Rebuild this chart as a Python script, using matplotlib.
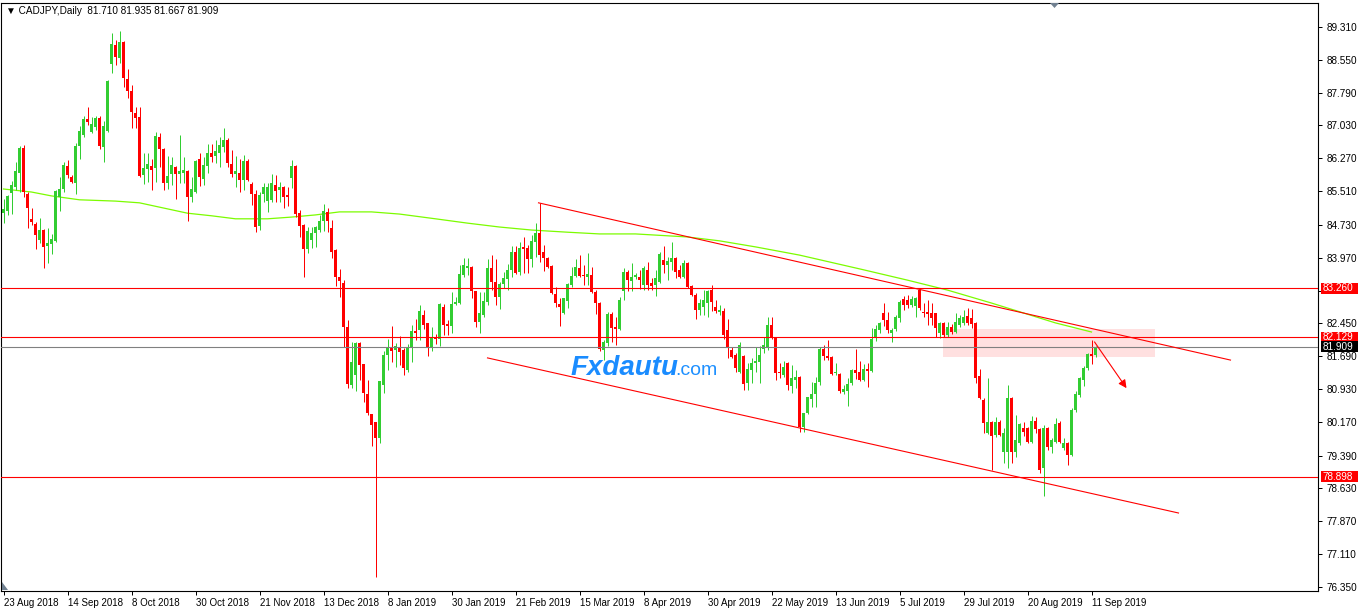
import matplotlib
matplotlib.use("Agg")
import matplotlib.pyplot as plt
import matplotlib.transforms as mtransforms
from matplotlib.patches import Rectangle, Polygon
import numpy as np

# daily OHLC, bar 0 = 23 Aug 2018
opens = [
    85.00, 85.05, 85.47, 85.61, 85.93, 86.51, 85.44, 84.87, 84.75, 84.38,
    84.61, 84.24, 84.29, 84.36, 85.37, 85.56, 86.09, 85.84, 85.70, 86.56,
    86.81, 87.18, 86.88, 87.00, 87.20, 86.53, 86.90, 88.45, 88.89, 88.59,
    88.96, 88.11, 87.83, 87.32, 87.23, 85.88, 86.02, 86.09, 86.05, 86.76,
    86.49, 85.70, 85.91, 86.07, 85.91, 85.93, 85.98, 85.37, 85.49, 86.25,
    85.79, 86.09, 86.39, 86.32, 86.39, 86.53, 86.69, 86.14, 85.91, 85.93,
    85.77, 86.21, 85.68, 85.44, 84.70, 85.44, 85.28, 85.31, 85.65, 85.54,
    85.61, 85.42, 85.81, 86.09, 85.00, 84.73, 84.17, 84.38, 84.54, 84.61,
    84.82, 85.03, 84.66, 84.15, 83.52, 83.38, 82.37, 81.02, 81.25, 82.00,
    81.51, 80.81, 80.35, 80.17, 79.80, 81.02, 81.72, 81.88, 81.83, 81.90,
    81.83, 81.37, 81.90, 82.27, 82.30, 82.64, 82.46, 81.90, 82.11, 82.09,
    82.83, 82.44, 82.39, 82.90, 82.92, 83.57, 83.73, 83.75, 83.20, 82.48,
    82.64, 82.94, 83.73, 83.41, 83.06, 83.36, 83.48, 83.69, 84.10, 83.64,
    84.22, 84.19, 83.94, 84.33, 84.54, 84.10, 83.96, 83.78, 83.13, 82.90,
    82.69, 82.97, 83.34, 83.55, 83.73, 83.57, 83.52, 83.57, 83.18, 82.92,
    81.83, 82.00, 82.67, 82.37, 82.32, 83.20, 83.64, 83.43, 83.52, 83.52,
    83.34, 83.69, 83.38, 83.34, 83.41, 83.92, 83.80, 83.87, 83.96, 83.69,
    83.52, 83.85, 83.31, 83.11, 82.76, 82.83, 82.92, 83.22, 82.83, 82.71,
    82.74, 82.30, 81.83, 81.72, 81.32, 81.69, 81.07, 81.37, 81.53, 81.56,
    81.86, 81.88, 82.41, 82.11, 81.32, 81.25, 81.53, 81.00, 81.14, 81.21,
    80.05, 80.37, 80.70, 80.81, 81.09, 81.86, 81.69, 81.67, 81.30, 81.28,
    80.86, 80.88, 81.07, 81.37, 81.32, 81.14, 81.39, 81.35, 82.11, 82.30,
    82.69, 82.53, 82.23, 82.32, 82.57, 83.01, 82.99, 82.88, 82.85, 83.22,
    82.71, 82.71, 82.69, 82.69, 82.23, 82.46, 82.18, 82.37, 82.25, 82.41,
    82.46, 82.62, 82.57, 82.46, 81.23, 80.68, 79.91, 80.17, 79.87, 80.17,
    79.47, 79.47, 80.72, 79.47, 79.68, 80.03, 80.03, 79.70, 80.19, 80.00,
    79.10, 80.03, 79.59, 79.70, 80.14, 79.56, 79.68, 79.40, 80.44, 80.79,
    81.14, 81.42, 81.74, 81.710,
]
highs = [
    85.33, 85.42, 85.75, 86.19, 86.56, 86.58, 85.49, 85.12, 84.80, 84.89,
    84.63, 84.66, 84.52, 85.54, 85.84, 86.19, 86.23, 85.88, 86.62, 87.02,
    87.25, 87.46, 87.23, 87.25, 87.25, 87.13, 88.08, 89.17, 89.01, 89.22,
    88.99, 88.34, 87.97, 87.46, 87.46, 86.39, 86.39, 86.25, 86.88, 86.86,
    86.51, 86.32, 86.30, 86.09, 86.81, 86.30, 86.00, 85.84, 86.23, 86.39,
    86.30, 86.60, 86.60, 86.69, 86.76, 86.97, 86.74, 86.46, 86.32, 86.25,
    86.35, 86.25, 85.72, 85.54, 85.49, 85.70, 85.70, 85.91, 85.88, 85.72,
    85.62, 85.61, 86.23, 86.12, 85.07, 84.75, 84.68, 84.68, 84.70, 84.96,
    85.21, 85.12, 84.84, 84.17, 83.71, 83.45, 82.53, 82.02, 82.02, 82.02,
    81.51, 81.14, 80.35, 80.17, 81.12, 81.81, 82.09, 82.39, 82.00, 82.16,
    81.88, 81.97, 82.41, 82.55, 82.88, 82.76, 82.46, 82.37, 82.20, 82.92,
    82.90, 82.53, 83.18, 83.06, 83.80, 83.96, 83.96, 83.78, 83.21, 83.18,
    83.18, 83.94, 84.03, 83.94, 83.40, 83.64, 83.82, 84.24, 84.24, 84.33,
    84.45, 84.26, 84.50, 84.77, 85.24, 84.26, 83.98, 83.79, 83.29, 83.04,
    83.04, 83.38, 83.76, 83.94, 84.03, 83.80, 84.08, 83.76, 83.22, 82.94,
    82.07, 82.71, 82.71, 82.60, 83.06, 83.73, 83.69, 83.85, 83.62, 83.69,
    83.78, 83.87, 83.50, 83.69, 84.10, 84.24, 83.99, 84.33, 83.98, 83.80,
    83.92, 83.87, 83.34, 83.15, 83.01, 83.22, 83.22, 83.34, 82.99, 82.88,
    82.81, 82.55, 81.90, 81.76, 82.02, 81.72, 81.53, 81.65, 81.90, 81.93,
    82.13, 82.60, 82.60, 82.13, 81.53, 81.58, 81.56, 81.49, 81.37, 81.23,
    80.38, 80.75, 81.09, 81.21, 81.90, 81.95, 82.07, 81.69, 81.53, 81.30,
    81.02, 81.19, 81.39, 81.86, 81.58, 81.51, 81.53, 82.34, 82.41, 82.48,
    82.92, 82.71, 82.34, 82.64, 82.99, 83.08, 83.11, 83.08, 83.06, 83.25,
    82.92, 82.99, 82.92, 82.70, 82.48, 82.47, 82.48, 82.44, 82.69, 82.64,
    82.76, 82.81, 82.78, 82.48, 81.39, 80.72, 81.19, 80.19, 80.28, 80.21,
    80.03, 81.02, 80.74, 80.33, 80.14, 80.17, 80.05, 80.31, 80.28, 80.03,
    80.10, 80.05, 79.80, 80.26, 80.19, 79.80, 79.70, 80.49, 80.88, 81.21,
    81.46, 81.76, 82.07, 81.935,
]
lows = [
    84.77, 84.96, 84.98, 85.54, 85.49, 85.37, 84.66, 84.73, 84.17, 84.31,
    83.73, 83.85, 84.06, 84.34, 85.05, 85.49, 85.81, 85.70, 85.44, 86.25,
    86.76, 87.04, 86.86, 86.93, 86.49, 86.19, 86.88, 88.25, 88.43, 88.48,
    87.92, 87.67, 86.97, 86.97, 85.84, 85.68, 85.72, 85.54, 85.72, 86.07,
    85.54, 85.56, 85.65, 85.33, 85.70, 85.70, 84.82, 85.26, 85.47, 85.63,
    85.65, 85.93, 86.19, 86.16, 86.07, 86.42, 86.07, 85.84, 85.61, 85.49,
    85.54, 85.75, 85.19, 84.57, 84.61, 85.26, 85.03, 85.26, 85.26, 85.26,
    85.12, 85.17, 85.58, 84.91, 84.45, 83.52, 84.08, 84.19, 84.22, 84.57,
    84.59, 84.57, 83.96, 83.31, 83.06, 81.90, 80.95, 80.95, 80.88, 81.14,
    80.63, 80.33, 79.61, 76.58, 79.68, 80.84, 81.37, 81.56, 81.44, 81.49,
    81.25, 81.32, 81.56, 82.07, 82.07, 82.32, 81.69, 81.81, 81.97, 81.93,
    82.18, 82.18, 82.23, 82.88, 82.90, 83.52, 83.57, 83.04, 82.37, 82.23,
    82.60, 82.88, 83.22, 82.88, 82.78, 83.27, 83.22, 83.52, 83.60, 83.57,
    83.62, 83.62, 83.76, 83.99, 83.87, 83.66, 83.73, 83.13, 82.83, 82.39,
    82.67, 82.81, 83.29, 83.52, 83.52, 83.34, 83.34, 83.15, 82.67, 81.81,
    81.60, 81.93, 82.02, 81.95, 82.30, 82.99, 83.20, 83.20, 83.48, 83.24,
    83.22, 83.22, 83.22, 83.08, 83.38, 83.62, 83.45, 83.69, 83.50, 83.50,
    83.50, 83.27, 83.08, 82.55, 82.64, 82.64, 82.60, 82.74, 82.69, 82.64,
    82.09, 81.65, 81.65, 81.32, 81.30, 80.91, 80.91, 81.07, 81.32, 81.07,
    81.76, 81.83, 82.09, 81.14, 81.18, 81.21, 80.91, 80.84, 80.95, 79.94,
    79.94, 80.35, 80.51, 80.51, 81.02, 81.60, 81.60, 81.25, 81.25, 80.84,
    80.81, 80.54, 81.02, 81.16, 81.12, 81.12, 80.98, 81.33, 82.04, 82.23,
    82.39, 82.23, 82.02, 82.27, 82.48, 82.76, 82.81, 82.83, 82.60, 82.76,
    82.60, 82.41, 82.41, 82.13, 82.11, 82.13, 82.13, 82.20, 82.23, 82.37,
    82.41, 82.41, 82.34, 81.07, 80.70, 79.91, 79.89, 79.06, 79.82, 79.84,
    79.22, 79.10, 79.22, 79.36, 79.63, 79.84, 79.68, 79.68, 79.91, 78.99,
    78.45, 79.52, 79.45, 79.68, 79.68, 79.52, 79.17, 79.38, 80.40, 80.74,
    81.00, 81.37, 81.51, 81.667,
]
closes = [
    85.10, 85.40, 85.65, 85.98, 86.51, 85.49, 85.12, 84.80, 84.50, 84.61,
    84.22, 84.31, 84.40, 85.51, 85.56, 86.12, 85.88, 85.72, 86.56, 86.90,
    87.18, 87.11, 87.06, 87.20, 86.56, 87.02, 88.06, 88.92, 88.62, 88.96,
    88.13, 87.83, 87.34, 87.20, 85.86, 86.05, 86.14, 86.00, 86.79, 86.49,
    85.70, 85.86, 86.12, 85.91, 85.98, 86.00, 85.37, 85.56, 86.21, 85.84,
    86.12, 86.39, 86.30, 86.44, 86.58, 86.69, 86.16, 85.91, 85.98, 85.77,
    86.21, 85.77, 85.44, 84.68, 85.42, 85.61, 85.61, 85.70, 85.51, 85.61,
    85.37, 85.37, 86.09, 84.98, 84.70, 84.17, 84.59, 84.54, 84.68, 84.82,
    85.05, 84.82, 84.10, 83.52, 83.43, 82.37, 81.05, 81.56, 82.00, 81.49,
    80.84, 80.37, 80.10, 79.80, 81.12, 81.72, 81.90, 81.81, 81.93, 81.79,
    81.42, 81.90, 82.27, 82.23, 82.74, 82.41, 81.88, 82.13, 82.09, 82.90,
    82.41, 82.39, 82.90, 82.94, 83.59, 83.80, 83.78, 83.20, 82.48, 82.69,
    82.97, 83.73, 83.41, 83.06, 83.36, 83.50, 83.69, 84.10, 83.62, 84.19,
    84.17, 83.94, 84.36, 84.54, 84.03, 83.96, 83.76, 83.15, 82.92, 82.83,
    83.04, 83.36, 83.55, 83.76, 83.55, 83.55, 83.59, 83.18, 82.92, 81.86,
    82.02, 82.67, 82.34, 82.32, 82.99, 83.64, 83.45, 83.52, 83.57, 83.45,
    83.73, 83.34, 83.31, 83.50, 84.06, 83.80, 83.89, 83.96, 83.64, 83.52,
    83.85, 83.29, 83.11, 82.76, 82.92, 82.99, 83.20, 82.94, 82.74, 82.76,
    82.18, 81.88, 81.67, 81.42, 81.95, 81.05, 81.39, 81.53, 81.58, 81.72,
    81.95, 82.41, 82.11, 81.30, 81.30, 81.44, 81.02, 81.18, 81.21, 80.05,
    80.37, 80.74, 80.81, 81.07, 81.86, 81.69, 81.65, 81.28, 81.32, 80.88,
    80.93, 81.05, 81.37, 81.30, 81.14, 81.39, 81.35, 82.09, 82.32, 82.46,
    82.53, 82.30, 82.30, 82.60, 82.94, 82.88, 82.88, 83.01, 83.04, 82.81,
    82.69, 82.67, 82.57, 82.34, 82.46, 82.18, 82.37, 82.25, 82.48, 82.57,
    82.60, 82.46, 82.44, 81.19, 80.72, 80.14, 80.17, 79.84, 80.17, 79.87,
    79.91, 80.72, 79.47, 79.75, 80.12, 79.94, 79.70, 80.19, 80.00, 79.06,
    80.03, 79.59, 79.75, 80.12, 79.70, 79.68, 79.40, 80.44, 80.81, 81.19,
    81.42, 81.74, 81.69, 81.909,
]

# moving average read at a few bars
ma_bars = [0, 7, 12, 19, 28, 34, 40, 46, 52, 58, 66, 72, 78, 84, 92, 99, 108,
           116, 124, 132, 141, 149, 158, 171, 179, 188, 199, 215, 226, 236,
           247, 255, 263, 272]
ma_vals = [85.56, 85.49, 85.40, 85.31, 85.28, 85.24, 85.12, 85.00, 84.94,
           84.87, 84.87, 84.91, 84.96, 85.03, 85.03, 84.98, 84.87, 84.77,
           84.68, 84.61, 84.56, 84.52, 84.52, 84.45, 84.36, 84.22, 84.03,
           83.69, 83.45, 83.22, 82.92, 82.69, 82.46, 82.25]

date_labels = ["23 Aug 2018", "14 Sep 2018", "8 Oct 2018", "30 Oct 2018",
               "21 Nov 2018", "13 Dec 2018", "8 Jan 2019", "30 Jan 2019",
               "21 Feb 2019", "15 Mar 2019", "8 Apr 2019", "30 Apr 2019",
               "22 May 2019", "13 Jun 2019", "5 Jul 2019", "29 Jul 2019",
               "20 Aug 2019", "11 Sep 2019"]
date_bars = list(range(0, 273, 16))

price_ticks = [89.310, 88.550, 87.790, 87.030, 86.270, 85.510, 84.730, 83.970,
               83.210, 82.450, 81.690, 80.930, 80.170, 79.390, 78.630, 77.870,
               77.110, 76.350]

levels = [83.260, 82.129, 78.898]
bid = 81.909

# trend channel, arrow and zone (bar index, price)
upper_bars, upper_prices = [133.75, 306.75], [85.24, 81.60]
lower_bars, lower_prices = [121.0, 293.75], [81.65, 78.06]
arrow_start, arrow_end = (272.75, 82.02), (280.75, 80.95)
zone_bars, zone_prices = (234.75, 287.75), (81.67, 82.32)

GREEN = "#32CD32"
RED = "#FF0000"
PX = 0.72  # one pixel in points
plt.rcParams["font.family"] = ["Liberation Sans", "DejaVu Sans"]

W, H = 1358, 610
fig = plt.figure(figsize=(W / 100, H / 100), dpi=100, facecolor="white")
ax = fig.add_axes([1 / W, 19 / H, 1317 / W, 588 / H])
# shift by half a pixel so 1px wicks sit on pixel centres
ax.set_xlim(-0.625, 328.625)
ax.set_ylim(76.2545, 89.8656)

o = np.array(opens)
h = np.array(highs)
l = np.array(lows)
c = np.array(closes)
x = np.arange(len(o))
cols = [GREEN if cc >= oo else RED for oo, cc in zip(opens, closes)]

# zone rectangle
ax.add_patch(Rectangle((zone_bars[0], zone_prices[0]), zone_bars[1] - zone_bars[0],
                       zone_prices[1] - zone_prices[0], fc="#FFE0E0", ec="none", zorder=0.5))

ax.plot(ma_bars, ma_vals, color="#7CFC00", lw=0.9, zorder=1.5)

ax.vlines(x, l, h, colors=cols, lw=PX, zorder=2)
body = np.maximum(np.abs(c - o), 0.025)
ax.bar(x, body, bottom=np.minimum(o, c), width=0.75, color=cols, linewidth=0, zorder=2.1)

for lv in levels:
    ax.axhline(lv, color=RED, lw=0.8, zorder=3)
ax.axhline(bid, color="#808080", lw=0.8, zorder=3)

ax.plot(upper_bars, upper_prices, color=RED, lw=0.8, zorder=3)
ax.plot(lower_bars, lower_prices, color=RED, lw=0.8, zorder=3)
ax.annotate("", xy=arrow_end, xytext=arrow_start,
            arrowprops=dict(arrowstyle="-|>", color=RED, lw=0.8, mutation_scale=12,
                            shrinkA=0, shrinkB=0), zorder=3)

# watermark
ax.text(141.75, 81.25, "Fxdautu", fontsize=20, fontweight="bold", style="italic",
        color="#1A8CFF", va="baseline", ha="left", zorder=4)
ax.text(168.0, 81.25, ".com", fontsize=14, color="#1E90FF",
        va="baseline", ha="left", zorder=4)

# axes style
for sp in ax.spines.values():
    sp.set_linewidth(0.8)
    sp.set_color("black")
ax.yaxis.tick_right()
ax.set_yticks(price_ticks)
# 83.210 sits under the 83.260 level label
ax.set_yticklabels(["" if abs(p - 83.21) < 1e-6 else f"{p:.3f}" for p in price_ticks])
ax.tick_params(axis="y", length=3, width=PX, pad=3, labelsize=7.2)
ax.set_xticks(date_bars)
ax.set_xticklabels(date_labels, ha="left")
ax.tick_params(axis="x", length=3, width=PX, pad=2, labelsize=7)

# price labels on the right scale
tr = mtransforms.blended_transform_factory(ax.transAxes, ax.transData)
px_price = (89.8656 - 76.2545) / 588
for lv, fc in [(levels[0], RED), (levels[1], RED), (levels[2], RED), (bid, "black")]:
    ax.add_patch(Rectangle((1.0 + 3 / 1317, lv - 5.5 * px_price), 37 / 1317, 11 * px_price,
                           transform=tr, fc=fc, ec="none", clip_on=False, zorder=5))
    ax.text(1.0 + 5 / 1317, lv, f"{lv:.3f}", transform=tr, ha="left", va="center",
            fontsize=7.2, color="white", clip_on=False, zorder=6)

fig.text(6 / W, 1 - 11 / H, "\u25bc CADJPY,Daily  81.710 81.935 81.667 81.909",
         fontsize=7.2, va="center", ha="left")

# small markers on the chart frame
fig.add_artist(Polygon([[1050 / W, 1 - 3 / H], [1059 / W, 1 - 3 / H], [1054.5 / W, 1 - 8 / H]],
                       closed=True, fc="#708090", ec="none", transform=fig.transFigure))
fig.add_artist(Polygon([[1.5 / W, 1 - 582 / H], [1.5 / W, 1 - 590 / H], [8 / W, 1 - 590 / H]],
                       closed=True, fc="#708090", ec="none", transform=fig.transFigure))

fig.savefig("out.png", dpi=100, facecolor="white")
